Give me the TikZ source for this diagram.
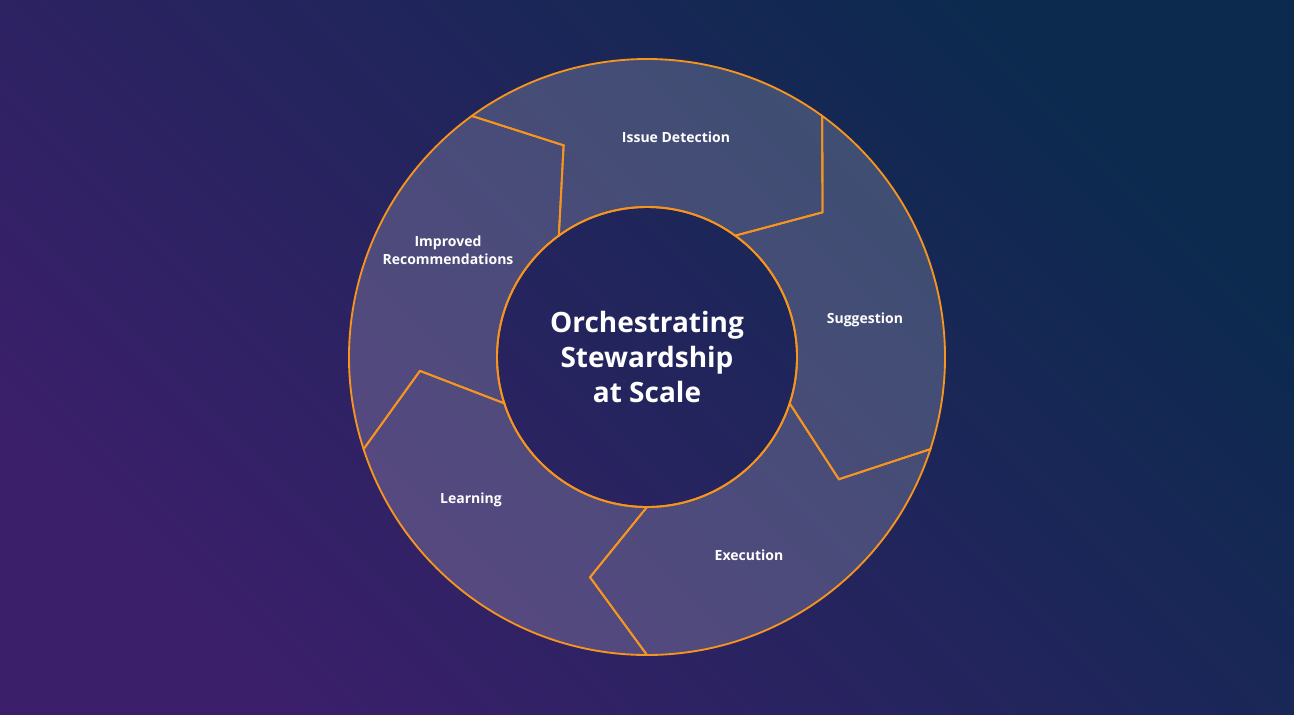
\documentclass[tikz,border=0pt]{standalone}
\usepackage{fontspec}
\setmainfont{Open Sans}
\definecolor{ringline}{HTML}{F7941D}
\definecolor{bgtop}{HTML}{0B2A4E}
\definecolor{bgbot}{HTML}{3B1F6B}
\tikzset{
  segment/.style={draw=ringline, line width=1.4pt, fill=white, fill opacity=0.18, line join=miter},
  steplabel/.style={text=white, font=\bfseries\fontsize{10.5}{13.5}\selectfont, align=center, inner sep=0.75pt},
  hubtext/.style={text=white, font=\bfseries\fontsize{21}{26}\selectfont, align=center},
}
\begin{document}
\begin{tikzpicture}[x=0.75pt,y=0.75pt,yscale=-1,xscale=1]
%Background
\shade[top color=bgtop, bottom color=bgbot, shading angle=-45] (0,0) rectangle (1294,714);

\begin{scope}[shift={(647,357)}]
%Shape: Issue Detection
\draw[segment] (-126:298) arc[start angle=-126, end angle=-54, radius=298] -- (-39.5:227.5) -- (-54:150) arc[start angle=-54, end angle=-126, radius=150] -- (-111.5:227.5) -- cycle;
%Shape: Suggestion
\draw[segment] (-54:298) arc[start angle=-54, end angle=18, radius=298] -- (32.5:227.5) -- (18:150) arc[start angle=18, end angle=-54, radius=150] -- (-39.5:227.5) -- cycle;
%Shape: Execution
\draw[segment] (18:298) arc[start angle=18, end angle=90, radius=298] -- (104.5:227.5) -- (90:150) arc[start angle=90, end angle=18, radius=150] -- (32.5:227.5) -- cycle;
%Shape: Learning
\draw[segment] (90:298) arc[start angle=90, end angle=162, radius=298] -- (176.5:227.5) -- (162:150) arc[start angle=162, end angle=90, radius=150] -- (104.5:227.5) -- cycle;
%Shape: Improved Recommendations
\draw[segment] (162:298) arc[start angle=162, end angle=234, radius=298] -- (248.5:227.5) -- (234:150) arc[start angle=234, end angle=162, radius=150] -- (176.5:227.5) -- cycle;
\end{scope}

%Hub
\node[circle, draw=ringline, line width=1.4pt, minimum size=225pt, inner sep=0pt] (hub) at (647,357) {};
\node[hubtext] (hubtitle) at (hub.center) {Orchestrating\\Stewardship\\at Scale};

% Text Node
\node[steplabel] (issue) at (676,137) {Issue Detection};
% Text Node
\node[steplabel] (suggest) at (865,320) {Suggestion};
% Text Node
\node[steplabel] (exec) at (749,555) {Execution};
% Text Node
\node[steplabel] (learn) at (471,500) {Learning};
% Text Node
\node[steplabel] (improve) at (448,250) {Improved\\Recommendations};
\end{tikzpicture}
\end{document}
